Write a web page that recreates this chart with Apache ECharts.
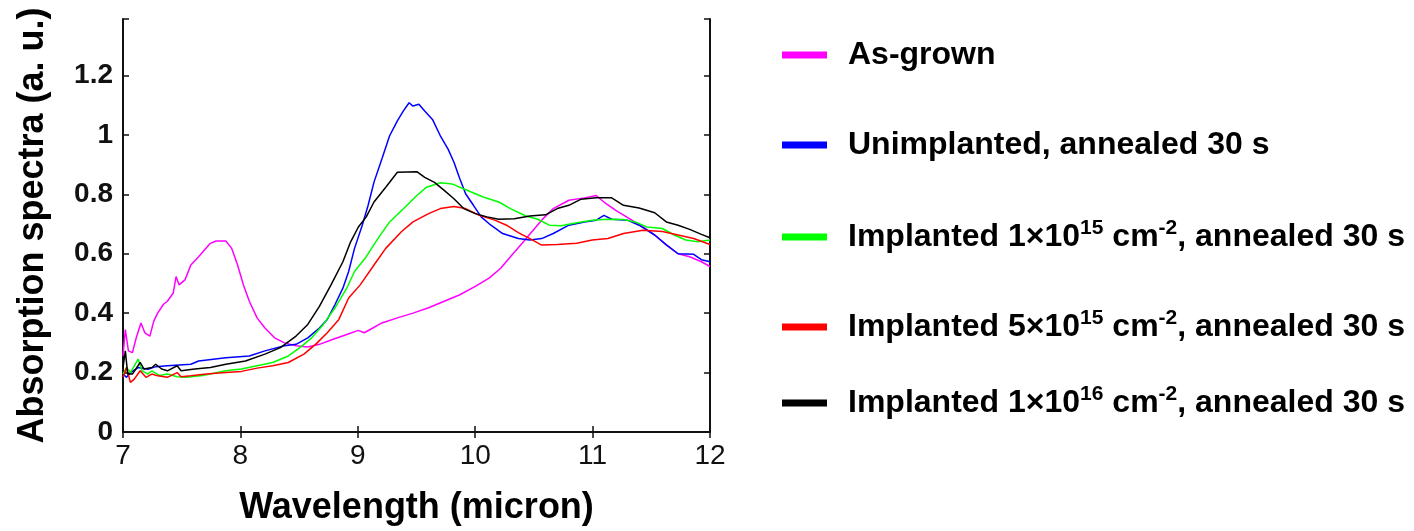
<!DOCTYPE html>
<html>
<head>
<meta charset="utf-8">
<script src="https://cdn.jsdelivr.net/npm/echarts@6/dist/echarts.min.js"></script>
<style>
html,body{margin:0;padding:0;background:#fff;}
#chart{width:1414px;height:531px;}
</style>
</head>
<body>
<div id="chart"></div>
<script>
// ---- data ----
const xTicks = [7, 8, 9, 10, 11, 12];
const yTicks = [0, 0.2, 0.4, 0.6, 0.8, 1, 1.2];

const seriesNames = [
  'As-grown',
  'Unimplanted, annealed 30 s',
  'Implanted 1e15, annealed 30 s',
  'Implanted 5e15, annealed 30 s',
  'Implanted 1e16, annealed 30 s'
];

const legendLabels = [
  'As-grown',
  'Unimplanted, annealed 30 s',
  'Implanted 1×10{sup|15} cm{sup|-2}, annealed 30 s',
  'Implanted 5×10{sup|15} cm{sup|-2}, annealed 30 s',
  'Implanted 1×10{sup|16} cm{sup|-2}, annealed 30 s'
];

const asGrown = [
  [7.0,0.256],[7.02,0.345],[7.046,0.273],[7.08,0.267],[7.113,0.317],[7.153,0.367],[7.186,0.334],
  [7.229,0.323],[7.262,0.373],[7.295,0.40],[7.345,0.43],[7.378,0.44],[7.428,0.468],[7.452,0.523],
  [7.478,0.495],[7.528,0.512],[7.578,0.562],[7.644,0.59],[7.744,0.635],[7.793,0.643],[7.876,0.643],
  [7.926,0.618],[7.976,0.562],[8.026,0.495],[8.076,0.44],[8.142,0.384],[8.209,0.35],[8.291,0.317],
  [8.375,0.30],[8.474,0.29],[8.574,0.286],[8.673,0.295],[8.79,0.312],[8.906,0.328],[9.005,0.342],
  [9.055,0.334],[9.105,0.345],[9.205,0.367],[9.337,0.384],[9.47,0.40],[9.603,0.418],[9.736,0.44],
  [9.869,0.462],[10.001,0.49],[10.118,0.518],[10.217,0.551],[10.30,0.59],[10.40,0.635],[10.483,0.674],
  [10.566,0.713],[10.665,0.752],[10.798,0.78],[10.931,0.788],[11.031,0.796],[11.097,0.774],[11.197,0.746],
  [11.313,0.718],[11.429,0.69],[11.529,0.663],[11.628,0.63],[11.728,0.60],[11.827,0.59],[11.927,0.573],
  [12.0,0.557]
];

const unimplanted = [
  [7.0,0.195],[7.03,0.184],[7.063,0.20],[7.129,0.217],[7.212,0.211],[7.279,0.22],[7.378,0.223],
  [7.578,0.228],[7.644,0.239],[7.876,0.25],[8.076,0.256],[8.209,0.273],[8.375,0.29],[8.474,0.295],
  [8.574,0.317],[8.673,0.35],[8.74,0.379],[8.806,0.429],[8.873,0.484],[8.922,0.54],[8.972,0.618],
  [9.038,0.696],[9.088,0.763],[9.138,0.841],[9.205,0.919],[9.271,0.997],[9.337,1.047],[9.387,1.08],
  [9.437,1.108],[9.47,1.097],[9.52,1.103],[9.57,1.08],[9.636,1.052],[9.703,0.997],[9.769,0.952],
  [9.819,0.908],[9.869,0.852],[9.918,0.802],[9.985,0.763],[10.051,0.724],[10.134,0.696],[10.234,0.668],
  [10.367,0.651],[10.466,0.646],[10.566,0.651],[10.665,0.668],[10.798,0.696],[10.931,0.707],[11.031,0.713],
  [11.097,0.729],[11.163,0.716],[11.296,0.713],[11.396,0.696],[11.529,0.663],[11.628,0.63],[11.728,0.60],
  [11.861,0.598],[11.927,0.58],[12.0,0.573]
];

const implanted1e15 = [
  [7.0,0.195],[7.03,0.217],[7.063,0.20],[7.129,0.245],[7.163,0.206],[7.212,0.195],[7.246,0.206],
  [7.312,0.19],[7.378,0.195],[7.461,0.186],[7.544,0.184],[7.677,0.19],[7.876,0.206],[8.009,0.212],
  [8.142,0.223],[8.275,0.234],[8.408,0.256],[8.507,0.284],[8.607,0.317],[8.707,0.362],[8.806,0.418],
  [8.906,0.484],[8.972,0.54],[9.072,0.59],[9.171,0.651],[9.271,0.707],[9.404,0.757],[9.503,0.796],
  [9.586,0.824],[9.703,0.839],[9.802,0.835],[9.935,0.813],[10.068,0.791],[10.201,0.774],[10.30,0.752],
  [10.433,0.727],[10.533,0.716],[10.632,0.696],[10.732,0.694],[10.865,0.704],[10.997,0.713],[11.13,0.716],
  [11.263,0.715],[11.363,0.707],[11.462,0.69],[11.595,0.685],[11.695,0.663],[11.794,0.646],[11.894,0.64],
  [12.0,0.646]
];

const implanted5e15 = [
  [7.0,0.184],[7.03,0.217],[7.063,0.167],[7.096,0.178],[7.146,0.206],[7.196,0.184],[7.246,0.195],
  [7.295,0.189],[7.378,0.184],[7.461,0.20],[7.495,0.186],[7.578,0.189],[7.71,0.195],[7.876,0.20],
  [8.009,0.204],[8.142,0.215],[8.275,0.223],[8.408,0.234],[8.541,0.262],[8.64,0.295],[8.74,0.334],
  [8.839,0.379],[8.922,0.451],[9.022,0.496],[9.138,0.562],[9.238,0.618],[9.371,0.674],[9.47,0.707],
  [9.603,0.735],[9.703,0.752],[9.819,0.759],[9.918,0.752],[10.035,0.729],[10.167,0.713],[10.267,0.696],
  [10.367,0.671],[10.466,0.651],[10.566,0.629],[10.699,0.631],[10.865,0.635],[10.997,0.646],[11.13,0.651],
  [11.263,0.668],[11.429,0.679],[11.595,0.675],[11.728,0.663],[11.861,0.651],[12.0,0.631]
];

const implanted1e16 = [
  [7.0,0.217],[7.02,0.273],[7.04,0.195],[7.08,0.195],[7.146,0.234],[7.179,0.212],[7.246,0.217],
  [7.279,0.228],[7.329,0.212],[7.378,0.206],[7.461,0.223],[7.495,0.206],[7.611,0.212],[7.744,0.217],
  [7.876,0.228],[8.043,0.239],[8.209,0.262],[8.341,0.284],[8.474,0.323],[8.574,0.362],[8.673,0.423],
  [8.773,0.496],[8.873,0.573],[8.939,0.64],[9.005,0.69],[9.072,0.724],[9.138,0.774],[9.238,0.824],
  [9.337,0.874],[9.503,0.876],[9.57,0.857],[9.653,0.84],[9.736,0.813],[9.819,0.785],[9.902,0.752],
  [10.001,0.735],[10.101,0.724],[10.201,0.716],[10.333,0.718],[10.466,0.727],[10.599,0.731],[10.699,0.752],
  [10.798,0.763],[10.898,0.783],[11.031,0.788],[11.163,0.788],[11.263,0.763],[11.396,0.754],[11.529,0.738],
  [11.628,0.707],[11.728,0.696],[11.827,0.682],[11.927,0.665],[12.0,0.654]
];

const seriesData = [asGrown, unimplanted, implanted1e15, implanted5e15, implanted1e16];
const colors = ['#ff00ff', '#0000ff', '#00ff00', '#ff0000', '#000000'];
const legendRowsY = [55, 145, 237, 327, 403];

// ---- chart ----
const chart = echarts.init(document.getElementById('chart'), null, {renderer: 'canvas'});
const FONT = '"Liberation Sans", Arial, Helvetica, sans-serif';

const legends = seriesNames.map((name, i) => ({
  data: [name],
  left: 782,
  top: legendRowsY[i] - 19,
  padding: 0,
  icon: 'rect',
  itemWidth: 45,
  itemHeight: 7,
  itemStyle: {color: colors[i], borderWidth: 0},
  formatter: () => legendLabels[i],
  textStyle: {
    fontFamily: FONT, fontSize: 32, fontWeight: 'bold', color: '#000',
    lineHeight: 38, padding: [0, 0, 0, 16],
    rich: {
      sup: {fontFamily: FONT, fontSize: 21, fontWeight: 'bold', color: '#000',
            verticalAlign: 'top', lineHeight: 18}
    }
  },
  selectedMode: false
}));

const axisLineStyle = {lineStyle: {color: '#111', width: 2}};
const tickStyle = {show: true, inside: true, length: 6, lineStyle: {color: '#111', width: 1.5}};

chart.setOption({
  animation: false,
  backgroundColor: '#fff',
  grid: {left: 123, right: 704, top: 19, bottom: 96, containLabel: false},
  legend: legends,
  xAxis: [
    {
      type: 'value', min: xTicks[0], max: xTicks[xTicks.length - 1], interval: 1,
      position: 'bottom',
      name: 'Wavelength (micron)', nameLocation: 'middle', nameGap: 58,
      nameTextStyle: {fontFamily: FONT, fontSize: 36, fontWeight: 'bold', color: '#000'},
      axisLine: axisLineStyle, axisTick: tickStyle,
      axisLabel: {fontFamily: FONT, fontSize: 28, color: '#111', margin: 10},
      splitLine: {show: false}
    },
    {
      type: 'value', min: xTicks[0], max: xTicks[xTicks.length - 1], interval: 1,
      position: 'top',
      axisLine: axisLineStyle, axisTick: tickStyle,
      axisLabel: {show: false}, splitLine: {show: false}
    }
  ],
  yAxis: [
    {
      type: 'value', min: 0, max: 1.39, interval: 0.2,
      position: 'left',
      name: 'Absorption spectra (a. u.)', nameLocation: 'middle', nameGap: 72, nameRotate: 90,
      nameTextStyle: {fontFamily: FONT, fontSize: 36, fontWeight: 'bold', color: '#000'},
      axisLine: axisLineStyle, axisTick: tickStyle,
      axisLabel: {
        fontFamily: FONT, fontSize: 28, fontWeight: 'bold', color: '#111', margin: 10,
        formatter: v => {
          const r = Math.round(v * 10) / 10;
          return yTicks.indexOf(r) >= 0 && Math.abs(r - v) < 1e-6 ? String(r) : '';
        }
      },
      splitLine: {show: false}
    },
    {
      type: 'value', min: 0, max: 1.39, interval: 0.2,
      position: 'right',
      axisLine: axisLineStyle, axisTick: tickStyle,
      axisLabel: {show: false}, splitLine: {show: false}
    }
  ],
  series: seriesNames.map((name, i) => ({
    name: name,
    type: 'line',
    xAxisIndex: 0,
    yAxisIndex: 0,
    data: seriesData[i],
    showSymbol: false,
    symbol: 'none',
    color: colors[i],
    lineStyle: {color: colors[i], width: 1.5},
    z: 3 + i
  }))
});
</script>
</body>
</html>
